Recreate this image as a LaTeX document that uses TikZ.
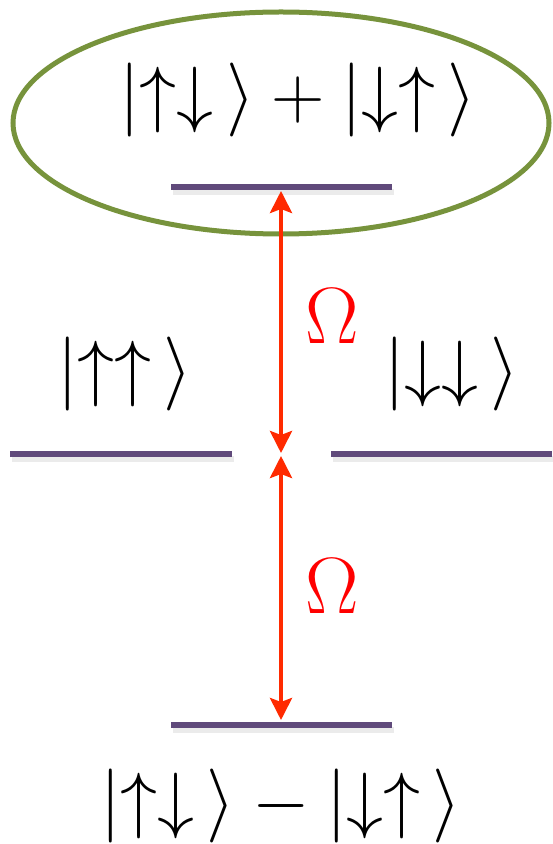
\RequirePackage{fix-cm}
\documentclass[tikz,border=0pt]{standalone}
\usepackage{amsmath,amssymb}
\usepackage{tikz}
\usetikzlibrary{arrows.meta, calc}

\begin{document}
\begin{tikzpicture}[x=0.5pt, y=-0.5pt, line cap=butt, >=Stealth]

  % Colors
  \definecolor{levelCol}{HTML}{604A7B}
  \definecolor{ovalCol}{HTML}{77933C}
  \definecolor{arrowCol}{HTML}{FF2A00}
  \definecolor{omegaCol}{HTML}{FF0000}

  \tikzset{
    level/.style={line width=2.6pt, levelCol},
    levelshadow/.style={line width=2.6pt, black!8},
    coupling/.style={line width=2pt, arrowCol,
      arrows={Stealth[length=11pt, width=11pt, inset=2pt]-Stealth[length=11pt, width=11pt, inset=2pt]}},
    ket/.style={font=\fontsize{37}{40}\selectfont, inner sep=0pt},
    rabi/.style={font=\fontsize{40}{44}\selectfont, text=omegaCol, inner sep=0pt}
  }

  % Frame of the picture
  \useasboundingbox (0,0) rectangle (552,844);

  % Level ends
  \coordinate (topL) at (171,187);
  \coordinate (topR) at (392,187);
  \coordinate (upL)  at (10,454);
  \coordinate (upR)  at (232,454);
  \coordinate (dnL)  at (331,454);
  \coordinate (dnR)  at (552,454);
  \coordinate (botL) at (171,725);
  \coordinate (botR) at (392,725);

  % Arrow ends
  \coordinate (a1) at (281,191);
  \coordinate (a2) at (281,453);
  \coordinate (a3) at (281,456);
  \coordinate (a4) at (281,720);

  % Level shadows
  \foreach \l/\r in {topL/topR, upL/upR, dnL/dnR, botL/botR}
    \draw[levelshadow] ($(\l)+(2,5)$) -- ($(\r)+(2,5)$);

  % Levels
  \draw[level] (topL) -- (topR);
  \draw[level] (upL) -- (upR);
  \draw[level] (dnL) -- (dnR);
  \draw[level] (botL) -- (botR);

  % Oval round the entangled state
  \draw[line width=2.5pt, ovalCol] (281,123) ellipse[x radius=268, y radius=111];

  % State labels
  \node[ket] (plus)  at (298,100) {$|{\uparrow}{\downarrow}\,\rangle + |{\downarrow}{\uparrow}\,\rangle$};
  \node[ket] (upup)  at (125,374) {$|{\uparrow}{\uparrow}\,\rangle$};
  \node[ket] (dndn)  at (452,374) {$|{\downarrow}{\downarrow}\,\rangle$};
  \node[ket] (minus) at (281,806) {$|{\uparrow}{\downarrow}\,\rangle - |{\downarrow}{\uparrow}\,\rangle$};

  % Couplings
  \draw[coupling] (a1) -- (a2);
  \draw[coupling] (a3) -- (a4);

  \node[rabi] (om1) at (332,316) {$\Omega$};
  \node[rabi] (om2) at (332,586) {$\Omega$};

\end{tikzpicture}
\end{document}
